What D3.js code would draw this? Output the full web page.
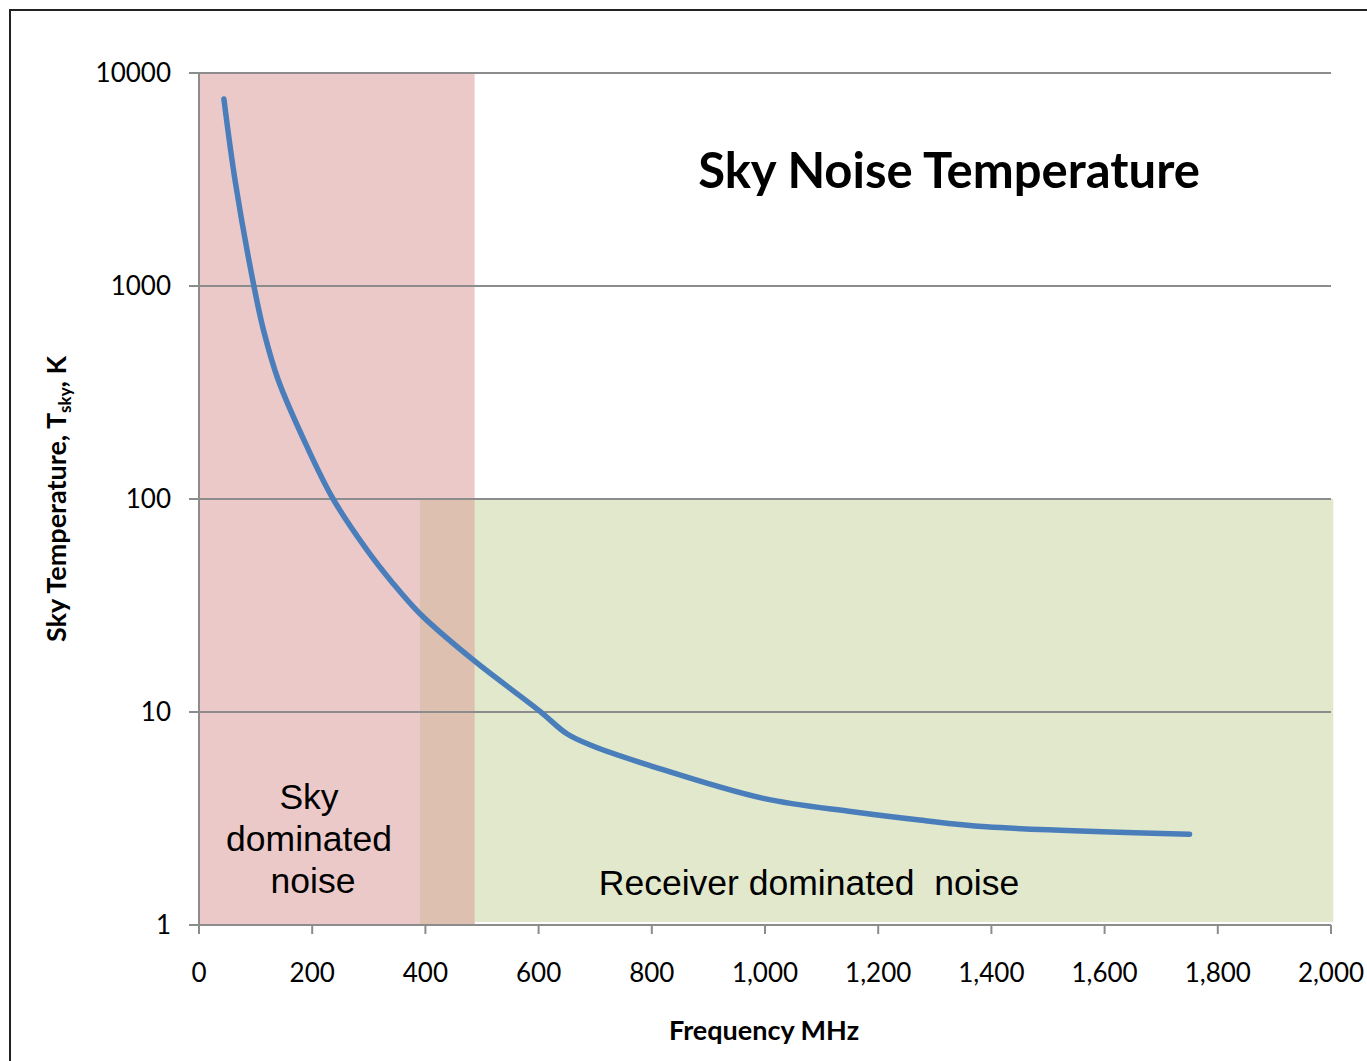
<!DOCTYPE html>
<html>
<head>
<meta charset="utf-8">
<script src="https://cdn.jsdelivr.net/npm/d3@7"></script>
<style>
  body { margin: 0; background: #fff; }
  svg { display: block; }
</style>
</head>
<body>
<svg id="chart" width="1367" height="1061"></svg>
<script>
// curve (MHz, K)
const freq = [44, 64, 97, 114, 140, 190, 237, 296, 340, 390, 485, 602, 650, 697, 797, 997, 1155, 1273, 1391, 1750];
const tsky = [7550, 3100, 1000, 620, 362, 178, 100, 58, 41, 29, 17.5, 10.1, 7.9, 6.9, 5.6, 3.93, 3.40, 3.11, 2.89, 2.67];

const xTicks = [0, 200, 400, 600, 800, 1000, 1200, 1400, 1600, 1800, 2000];
const yTicks = [1, 10, 100, 1000, 10000];

// shaded regions [x0, x1, yLow, yHigh]
const skyBand = [0, 487, 1, 10000];
const rxBand = [390, 2004, 1, 100];

const svg = d3.select("#chart");
const margin = { top: 73, right: 36, bottom: 136, left: 199 };
const W = 1367, H = 1061;
const width = W - margin.left - margin.right;
const height = H - margin.top - margin.bottom;
const calib = "Lato, 'Open Sans', sans-serif";

const x = d3.scaleLinear().domain([0, 2000]).range([0, width]);
const y = d3.scaleLog().domain([1, 10000]).range([height, 0]);

// outer frame
svg.append("rect").attr("x", 10).attr("y", 10).attr("width", W).attr("height", H)
  .attr("fill", "none").attr("stroke", "#222").attr("stroke-width", 2);

const g = svg.append("g").attr("transform", `translate(${margin.left},${margin.top})`);

// bands
g.append("rect")
  .attr("x", x(skyBand[0])).attr("width", x(skyBand[1]) - x(skyBand[0]))
  .attr("y", y(skyBand[3])).attr("height", y(skyBand[2]) - y(skyBand[3]))
  .attr("fill", "#ebc9c9");
g.append("rect")
  .attr("x", x(rxBand[0])).attr("width", x(rxBand[1]) - x(rxBand[0]))
  .attr("y", y(rxBand[3])).attr("height", y(rxBand[2]) - y(rxBand[3]) - 3)
  .attr("fill", "#e1e8cc");
// overlap of the two bands
g.append("rect")
  .attr("x", x(rxBand[0])).attr("width", x(skyBand[1]) - x(rxBand[0]))
  .attr("y", y(rxBand[3])).attr("height", y(rxBand[2]) - y(rxBand[3]))
  .attr("fill", "#dec0b0");

// horizontal gridlines + left tick stubs
g.selectAll(".grid").data(yTicks).join("line")
  .attr("x1", -10).attr("x2", width)
  .attr("y1", d => y(d)).attr("y2", d => y(d))
  .attr("stroke", "#8c8c8c").attr("stroke-width", 2);

// y axis line
g.append("line").attr("x1", 0).attr("x2", 0).attr("y1", 0).attr("y2", height)
  .attr("stroke", "#8c8c8c").attr("stroke-width", 2);

// x ticks
g.selectAll(".xt").data(xTicks).join("line")
  .attr("x1", d => x(d)).attr("x2", d => x(d))
  .attr("y1", height).attr("y2", height + 9)
  .attr("stroke", "#8c8c8c").attr("stroke-width", 2);

const fmt = d3.format(",");
g.selectAll(".xl").data(xTicks).join("text")
  .attr("x", d => x(d)).attr("y", height + 57)
  .attr("text-anchor", "middle")
  .attr("font-family", calib).attr("font-size", 26)
  .attr("fill", "#000")
  .text(d => fmt(d));

g.selectAll(".yl").data(yTicks).join("text")
  .attr("x", -28).attr("y", d => y(d) + 9)
  .attr("text-anchor", "end")
  .attr("font-family", calib).attr("font-size", 26)
  .attr("fill", "#000")
  .text(d => d);

// curve
const line = d3.line().x((d, i) => x(freq[i])).y(d => y(d)).curve(d3.curveCatmullRom.alpha(0.5));
g.append("path").datum(tsky).attr("d", line)
  .attr("fill", "none").attr("stroke", "#4a7ebb").attr("stroke-width", 5.5)
  .attr("stroke-linecap", "round").attr("stroke-linejoin", "round");

// title
svg.append("text").attr("x", 949).attr("y", 188).attr("text-anchor", "middle")
  .attr("font-family", calib).attr("font-weight", "bold")
  .attr("font-size", 49).text("Sky Noise Temperature");

// annotations
const ann = svg.append("g").attr("font-family", "'Liberation Sans', Arial, sans-serif")
  .attr("font-size", 35.5).attr("text-anchor", "middle").attr("fill", "#000");
ann.append("text").attr("x", 309).attr("y", 809).text("Sky");
ann.append("text").attr("x", 309).attr("y", 851).text("dominated");
ann.append("text").attr("x", 313).attr("y", 893).text("noise");
ann.append("text").attr("x", 809).attr("y", 895).attr("xml:space", "preserve")
  .text("Receiver dominated  noise");

// axis titles
svg.append("text").attr("x", 764).attr("y", 1040).attr("text-anchor", "middle")
  .attr("font-family", calib).attr("font-weight", "bold")
  .attr("font-size", 27).text("Frequency MHz");

const yt = svg.append("text").attr("transform", "translate(66,499) rotate(-90)")
  .attr("text-anchor", "middle")
  .attr("font-family", calib).attr("font-weight", "bold")
  .attr("font-size", 27);
yt.append("tspan").text("Sky Temperature, T");
yt.append("tspan").attr("font-size", 17).attr("dy", 5).text("sky");
yt.append("tspan").attr("dy", -5).text(", K");
</script>
</body>
</html>
